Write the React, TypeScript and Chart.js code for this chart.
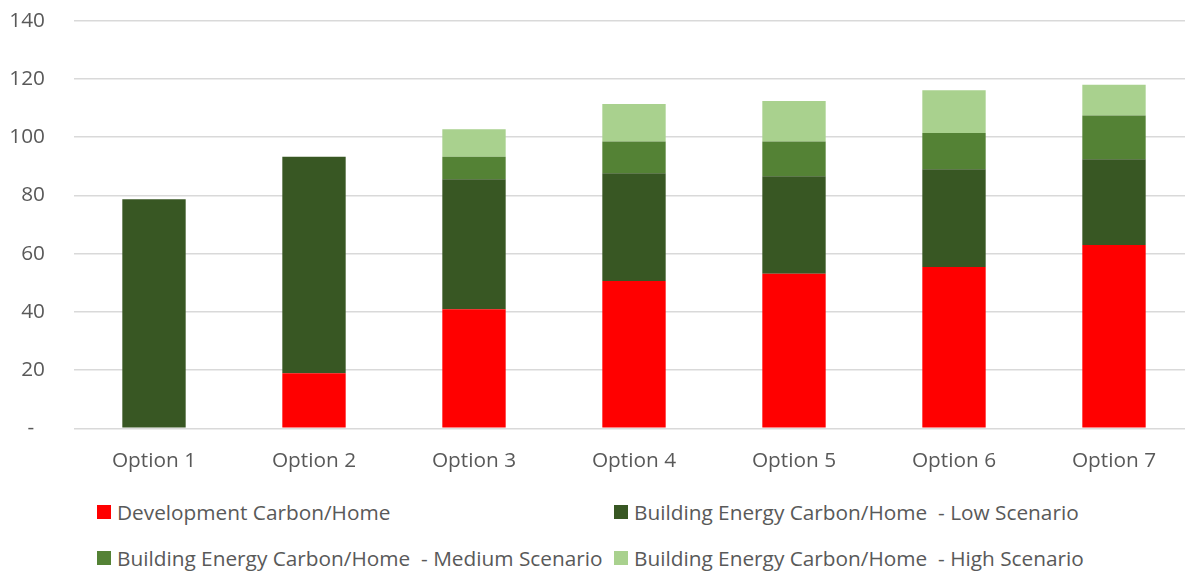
import React, { useEffect, useRef } from "react";
import { Chart, registerables } from "chart.js";

Chart.register(...registerables);

const categories = ["Option 1", "Option 2", "Option 3", "Option 4", "Option 5", "Option 6", "Option 7"];
const developmentCarbon = [0, 18.9, 40.9, 50.6, 53.1, 55.4, 63.0];
const lowScenario = [78.7, 74.4, 44.6, 37.0, 33.5, 33.6, 29.4];
const mediumScenario = [0, 0, 7.8, 10.9, 11.9, 12.4, 15.0];
const highScenario = [0, 0, 9.4, 12.9, 13.9, 14.7, 10.6];
const seriesNames = [
  "Development Carbon/Home",
  "Building Energy Carbon/Home  - Low Scenario",
  "Building Energy Carbon/Home  - Medium Scenario",
  "Building Energy Carbon/Home  - High Scenario",
];
const seriesColors = ["#FF0000", "#385723", "#548235", "#A9D18E"];
const yTicks = [0, 20, 40, 60, 80, 100, 120, 140];

const FONT = "'Open Sans', 'Noto Sans', sans-serif";
const TEXT = "#595959";

export default function App() {
  const ref = useRef<HTMLCanvasElement | null>(null);

  useEffect(() => {
    if (!ref.current) return;
    const values = [developmentCarbon, lowScenario, mediumScenario, highScenario];
    const chart = new Chart(ref.current, {
      type: "bar",
      data: {
        labels: categories,
        datasets: values.map((v, i) => ({
          label: seriesNames[i],
          data: v,
          backgroundColor: seriesColors[i],
          borderWidth: 0,
          categoryPercentage: 1,
          barPercentage: 0.396,
        })),
      },
      options: {
        responsive: false,
        animation: false,
        layout: { padding: { top: 20.7, right: 6, bottom: 0, left: 0 } },
        plugins: { legend: { display: false }, tooltip: { enabled: false } },
        scales: {
          x: {
            stacked: true,
            grid: { display: false, drawTicks: false },
            border: { display: false },
            ticks: { color: TEXT, font: { family: FONT, size: 20.8 }, padding: 20 },
            afterFit: (s: any) => {
              s.height = 51.7;
            },
          },
          y: {
            stacked: true,
            min: 0,
            max: 140,
            afterBuildTicks: (s: any) => {
              s.ticks = yTicks.map((v) => ({ value: v }));
            },
            grid: { color: "#D9D9D9", lineWidth: 1.6, drawTicks: false },
            border: { display: false },
            ticks: {
              color: TEXT,
              font: { family: FONT, size: 20.8 },
              padding: 29,
              callback: (v: any) => (Number(v) === 0 ? "-  " : String(v)),
            },
            afterFit: (s: any) => {
              s.width = 74;
              s.paddingTop = 0;
              s.paddingBottom = 0;
            },
          },
        },
      },
    });
    return () => chart.destroy();
  }, []);

  const legendPos = [
    { left: 97, top: 505 },
    { left: 614, top: 505 },
    { left: 97, top: 551 },
    { left: 614, top: 551 },
  ];

  return (
    <div
      style={{
        position: "absolute",
        left: 0,
        top: 0,
        width: 1185,
        height: 574,
        overflow: "hidden",
        background: "#fff",
      }}
    >
      <canvas ref={ref} width={1200} height={480} style={{ position: "absolute", left: 0, top: 0 }} />
      {seriesNames.map((name, i) => (
        <div
          key={name}
          style={{
            position: "absolute",
            left: legendPos[i].left,
            top: legendPos[i].top - 7,
            height: 28,
            display: "flex",
            alignItems: "center",
            fontFamily: FONT,
            fontSize: 20.8,
            color: TEXT,
            whiteSpace: "pre",
          }}
        >
          <span style={{ display: "inline-block", width: 14, height: 14, background: seriesColors[i], marginRight: 6 }} />
          <span>{name}</span>
        </div>
      ))}
    </div>
  );
}
